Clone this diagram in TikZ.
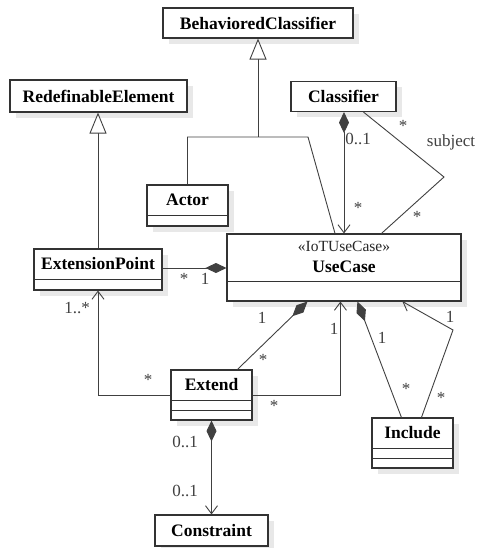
\documentclass[tikz,border=0pt]{standalone}
\usepackage{fontspec}
\setmainfont{Liberation Serif}
\usetikzlibrary{arrows.meta,shadows,calc}

\begin{document}
\begin{tikzpicture}[x=1pt,y=-1pt,
  box/.style={draw=black!80, line width=1.1pt, fill=white, inner sep=0pt,
    drop shadow={shadow xshift=6pt, shadow yshift=-6pt, fill=black!9, opacity=1}},
  cname/.style={font=\bfseries\fontsize{17.5}{20}\selectfont, inner sep=0pt},
  stereo/.style={font=\fontsize{15.5}{18}\selectfont, inner sep=0pt, text=black!85},
  mult/.style={font=\fontsize{17}{20}\selectfont, inner sep=0pt, text=black!75},
  compline/.style={draw=black!80, line width=1.1pt},
  conn/.style={draw=black!75, line width=0.9pt},
  gentip/.style={-{Triangle[open, length=21pt, width=17pt, fill=white]}},
  nav/.style={-{Straight Barb[length=8pt, width=12pt]}},
  comp/.style={{Diamond[length=21pt, width=10pt]}-},
  compnav/.style={{Diamond[length=21pt, width=10pt]}-{Straight Barb[length=8pt, width=12pt]}},
]
\useasboundingbox (0,0) rectangle (478,548);

% ---------- classes ----------
\node[box, minimum width=190pt, minimum height=30pt] (bc) at (258,23) {};
\node[cname] (bcn) at (bc.center) {BehavioredClassifier};

\node[box, minimum width=177pt, minimum height=32pt] (re) at (98.5,96) {};
\node[cname] (ren) at (re.center) {RedefinableElement};

\node[box, minimum width=105pt, minimum height=30pt] (cls) at (343.5,96.5) {};
\node[cname] (clsn) at (cls.center) {Classifier};

\node[box, minimum width=81pt, minimum height=41pt] (act) at (187.5,205.5) {};
\node[cname] (actn) at ($(act.north)+(0,15.5)$) {Actor};
\draw[compline] ($(act.north west)+(0,31)$) -- ($(act.north east)+(0,31)$);

\node[box, minimum width=128pt, minimum height=41pt] (ep) at (98,269.5) {};
\node[cname] (epn) at ($(ep.north)+(0,15.5)$) {ExtensionPoint};
\draw[compline] ($(ep.north west)+(0,31)$) -- ($(ep.north east)+(0,31)$);

\node[box, minimum width=234pt, minimum height=67pt] (uc) at (344,267.5) {};
\node[stereo] (ucs) at ($(uc.north)+(0,13)$) {«IoTUseCase»};
\node[cname] (ucn) at ($(uc.north)+(0,33.5)$) {UseCase};
\draw[compline] ($(uc.north west)+(0,48)$) -- ($(uc.north east)+(0,48)$);

\node[box, minimum width=81pt, minimum height=50pt] (ext) at (211.5,395) {};
\node[cname] (extn) at ($(ext.north)+(0,15.5)$) {Extend};
\draw[compline] ($(ext.north west)+(0,31)$) -- ($(ext.north east)+(0,31)$);
\draw[compline] ($(ext.north west)+(0,41)$) -- ($(ext.north east)+(0,41)$);

\node[box, minimum width=81pt, minimum height=50pt] (inc) at (412.5,443) {};
\node[cname] (incn) at ($(inc.north)+(0,15.5)$) {Include};
\draw[compline] ($(inc.north west)+(0,31)$) -- ($(inc.north east)+(0,31)$);
\draw[compline] ($(inc.north west)+(0,41)$) -- ($(inc.north east)+(0,41)$);

\node[box, minimum width=113pt, minimum height=31pt] (con) at (211.5,530.5) {};
\node[cname] (conn) at (con.center) {Constraint};

% ---------- generalizations ----------
\coordinate (gj) at (258,137);
\coordinate (gl) at (187.5,137);
\coordinate (gr) at (308,137);
\draw[conn, gentip] (gj) -- (bc.south);
\draw[conn] (act.north) -- (gl) -- (gr) -- ($(uc.north)+(-9,0)$);
\draw[conn, gentip] (ep.north) -- (ep.north |- re.south);

% ---------- associations ----------
% Classifier owns use cases
\draw[conn, compnav] (uc.north |- cls.south) -- (uc.north);
\node[mult] (m1) at (358,139) {0..1};
\node[mult] (m2) at (358,208) {*};

% subject
\coordinate (sb) at (444,177);
\draw[conn] ($(cls.south west)+(73,0)$) -- (sb) -- ($(uc.north west)+(155,0)$);
\node[mult] (m3) at (403,126) {*};
\node[mult] (m4) at (451,142) {subject};
\node[mult] (m5) at (417,217) {*};

% extension points
\draw[conn, comp] (uc.west |- 0,268) -- (ep.east |- 0,268);
\node[mult] (m6) at (184,279) {*};
\node[mult] (m7) at (205,279) {1};

% extend -> extension point
\draw[conn, nav] (ext.west) -| (ep.south);
\node[mult] (m8) at (77,308) {1..*};
\node[mult] (m9) at (148,380) {*};

% use case owns extends
\draw[conn, comp] ($(uc.south west)+(81,0)$) -- ($(ext.north west)+(67,0)$);
\node[mult] (m10) at (262,318) {1};
\node[mult] (m11) at (263,360) {*};

% extended case
\draw[conn, nav] (ext.east) -| ($(uc.south west)+(114,0)$);
\node[mult] (m12) at (334,329) {1};
\node[mult] (m13) at (274,406) {*};

% use case owns includes
\draw[conn, comp] ($(uc.south west)+(131,0)$) -- ($(inc.north west)+(30,0)$);
\node[mult] (m14) at (382,338) {1};
\node[mult] (m15) at (406,389) {*};

% addition
\coordinate (ab) at (453,330);
\draw[conn, nav] ($(inc.north west)+(50,0)$) -- (ab) -- ($(uc.south west)+(176,0)$);
\node[mult] (m16) at (450,317) {1};
\node[mult] (m17) at (441,398) {*};

% condition
\draw[conn, compnav] (ext.south) -- (con.north);
\node[mult] (m18) at (185,442) {0..1};
\node[mult] (m19) at (185,491) {0..1};
\end{tikzpicture}
\end{document}
